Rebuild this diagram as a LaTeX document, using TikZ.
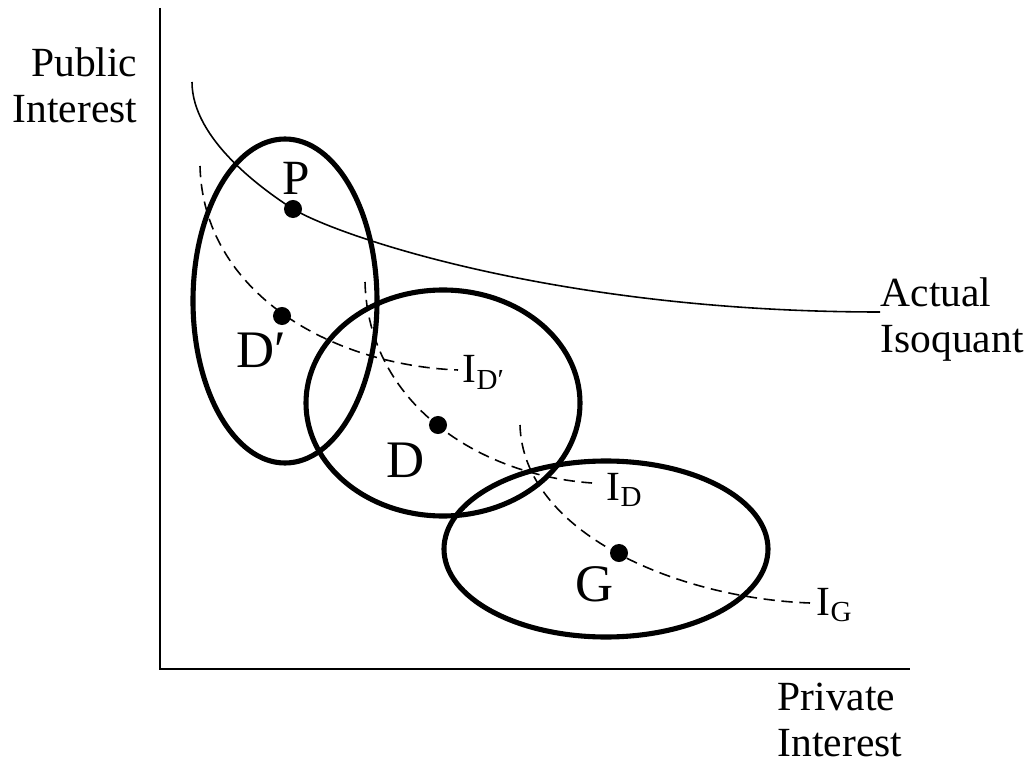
\documentclass[tikz,border=0pt]{standalone}
\usepackage{fontspec}
\setmainfont{Liberation Serif}
\usetikzlibrary{positioning}
\tikzset{
  axis/.style={line width=0.7pt},
  isoq/.style={line width=0.45pt},
  indiff/.style={line width=0.45pt,dash pattern=on 3.2pt off 1.9pt},
  region/.style={line width=1.45pt},
  dot/.style={circle,fill,inner sep=0pt,minimum size=1.8mm},
  axlabel/.style={inner sep=0pt,font=\fontsize{11.8}{13.2}\selectfont},
  ptlabel/.style={inner sep=0pt,anchor=base west,font=\fontsize{15}{18}\selectfont},
  crvlabel/.style={inner sep=0pt,anchor=base west,font=\fontsize{11.8}{14}\selectfont}
}

\begin{document}
\begin{tikzpicture}[x=0.01cm,y=-0.01cm]
  \useasboundingbox (0,0) rectangle (1033,767);
  % axes
  \coordinate (top) at (160,8);
  \coordinate (orig) at (160,669);
  \coordinate (right) at (910,669);
  \draw[axis] (top) -- (orig) -- (right);
  \node[axlabel,anchor=north east,align=right] (yl) at (138,47) {Public\\Interest};
  \node[axlabel,anchor=north west,align=left] (xl) at (777,682) {Private\\Interest};

  % actual isoquant
  \coordinate (a0) at (192,82);
  \coordinate (a1) at (880,312);
  \node[dot] (P) at (293,209) {};
  \draw[isoq] (a0) .. controls (192,140) and (265,191) .. (P.center)
    .. controls (340,237) and (560,312) .. (a1);
  \node[axlabel,anchor=north west,align=left] (iso) at (880,277) {Actual\\Isoquant};

  % regions
  \draw[region] (285,301) ellipse [x radius=92, y radius=162];
  \draw[region] (443,403) ellipse [x radius=137, y radius=113];
  \draw[region] (606,549) ellipse [x radius=162, y radius=88];

  % indifference curves
  \coordinate (dp0) at (200,166);
  \coordinate (dp1) at (458,370);
  \coordinate (d0) at (365,282);
  \coordinate (d1) at (592,483);
  \coordinate (g0) at (520,425);
  \coordinate (g1) at (810,603);
  \draw[indiff] (dp0) .. controls (203,292) and (330,365) .. (dp1);
  \draw[indiff] (d0) .. controls (368,403) and (478,475) .. (d1);
  \draw[indiff] (g0) .. controls (523,532) and (675,598) .. (g1);
  \node[crvlabel] (lDp) at (462,383) {I\textsubscript{D′}};
  \node[crvlabel] (lD) at (606,500) {I\textsubscript{D}};
  \node[crvlabel] (lG) at (816,615) {I\textsubscript{G}};

  % points
  \node[dot] (Dp) at (282,316) {};
  \node[dot] (D) at (438,425) {};
  \node[dot] (G) at (619,553) {};
  \node[ptlabel,font=\fontsize{14}{17}\selectfont] (nP) at (282,195) {P};
  \node[ptlabel] (nDp) at (236,367) {D′};
  \node[ptlabel] (nD) at (386,477) {D};
  \node[ptlabel] (nG) at (575,601) {G};
\end{tikzpicture}
\end{document}
